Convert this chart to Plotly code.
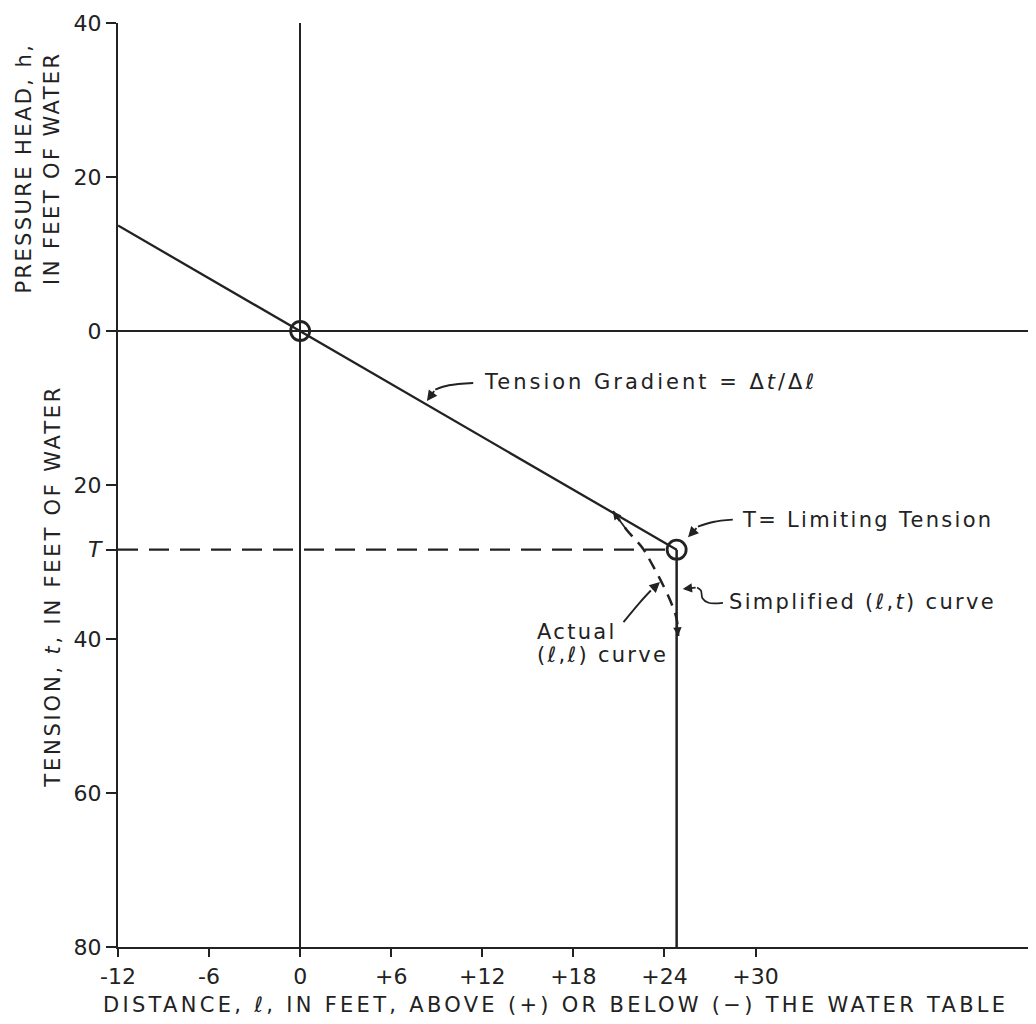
import plotly.graph_objects as go

# ---------------- data ----------------
x_tick_vals = [-12, -6, 0, 6, 12, 18, 24, 30]
x_tick_labels = ["-12", "-6", "0", "+6", "+12", "+18", "+24", "+30"]

limiting_tension = 28.4      # T, feet of water
limiting_distance = 24.8     # distance where tension reaches T

y_tick_vals = [40, 20, 0, -20, -limiting_tension, -40, -60, -80]
y_tick_labels = ["40", "20", "0", "20", "<i>T</i>", "40", "60", "80"]

gradient_distance = [-12, 0, limiting_distance]
gradient_head = [13.7, 0, -limiting_tension]

simplified_distance = [limiting_distance, limiting_distance]
simplified_head = [-limiting_tension, -80]

tline_distance = [-12, limiting_distance]
tline_head = [-limiting_tension, -limiting_tension]

actual_distance = [20.6, 21.5, 22.6, 23.1, 23.7, 24.4, 24.8, 24.9]
actual_head = [-23.4, -25.8, -28.3, -30.0, -32.2, -35.1, -37.4, -39.6]

key_distance = [0, limiting_distance]
key_head = [0, -limiting_tension]

# ---------------- style ----------------
INK = "#222222"
FONT = "DejaVu Sans"


def spaced(text, px=2.8):
    return '<span style="letter-spacing:%.1fpx">%s</span>' % (px, text)


fig = go.Figure()

fig.add_trace(go.Scatter(x=gradient_distance, y=gradient_head, mode="lines",
                         line=dict(color=INK, width=2.3), hoverinfo="skip"))
fig.add_trace(go.Scatter(x=simplified_distance, y=simplified_head, mode="lines",
                         line=dict(color=INK, width=2.5), hoverinfo="skip"))
fig.add_trace(go.Scatter(x=tline_distance, y=tline_head, mode="lines",
                         line=dict(color=INK, width=2.3, dash="20px,11px"), hoverinfo="skip"))
fig.add_trace(go.Scatter(x=actual_distance, y=actual_head, mode="lines",
                         line=dict(color=INK, width=2.5, dash="12px,8px", shape="spline"),
                         hoverinfo="skip"))
fig.add_trace(go.Scatter(x=key_distance, y=key_head, mode="markers",
                         marker=dict(symbol="circle-open", size=19, color=INK,
                                     line=dict(width=2.8, color=INK)),
                         hoverinfo="skip"))

annotations = []


def curved_arrow(xs, ys, width=1.9):
    """Draw a curved leader line ending with an arrowhead at the last point."""
    fig.add_trace(go.Scatter(x=xs[:-1], y=ys[:-1], mode="lines",
                             line=dict(color=INK, width=width, shape="spline"),
                             hoverinfo="skip"))
    annotations.append(dict(x=xs[-1], y=ys[-1], ax=xs[-2], ay=ys[-2],
                            xref="x", yref="y", axref="x", ayref="y",
                            showarrow=True, arrowhead=2, arrowsize=1.1,
                            arrowwidth=width, arrowcolor=INK, text=""))


def label(x, y, text, size=21, xanchor="left", ls=2.8):
    annotations.append(dict(x=x, y=y, xref="x", yref="y", text=spaced(text, ls),
                            showarrow=False, xanchor=xanchor, yanchor="middle",
                            font=dict(family=FONT, size=size, color=INK)))


# Tension gradient leader
curved_arrow([11.4, 9.8, 8.9, 8.35], [-6.75, -7.05, -7.6, -9.1])
label(12.0, -6.6, "Tension Gradient = Δ<i>t</i>/Δℓ", ls=3.0)

# Limiting tension leader
curved_arrow([28.5, 27.2, 26.2, 25.55], [-24.5, -24.8, -25.4, -26.8])
label(29.0, -24.55, "T= Limiting Tension", ls=2.3)

# Simplified curve squiggle
curved_arrow([27.85, 26.9, 26.5, 26.4, 26.15, 25.2],
             [-35.3, -35.3, -34.7, -33.7, -33.3, -33.5], width=1.7)
label(28.15, -35.2, "Simplified (ℓ,<i>t</i>) curve", ls=2.3)

# Actual curve leader
curved_arrow([21.3, 22.4, 23.1, 23.7], [-37.8, -35.2, -33.7, -32.6])
label(15.5, -39.1, "Actual", ls=2.3)
label(15.5, -42.1, "(ℓ,ℓ) curve", ls=2.3)

# Arrowheads at the ends of the actual curve
for i0, i1 in [(0, 1), (-1, -2)]:
    annotations.append(dict(x=actual_distance[i0], y=actual_head[i0],
                            ax=actual_distance[i1], ay=actual_head[i1],
                            xref="x", yref="y", axref="x", ayref="y",
                            showarrow=True, arrowhead=2, arrowsize=1.0, arrowwidth=1.7,
                            arrowcolor=INK, text=""))

# Axis titles (paper coords relative to the plot area)
annotations.append(dict(x=-0.0869, y=0.843, xref="paper", yref="paper",
                        text=spaced("PRESSURE HEAD, h,", 2.4) + "<br>" + spaced("IN FEET OF WATER", 2.4),
                        textangle=-90,
                        showarrow=False, xanchor="center", yanchor="middle",
                        font=dict(family=FONT, size=21, color=INK)))
annotations.append(dict(x=-0.0702, y=0.391, xref="paper", yref="paper",
                        text=spaced("TENSION, <i>t</i>, IN FEET OF WATER", 2.8), textangle=-90,
                        showarrow=False, xanchor="center", yanchor="middle",
                        font=dict(family=FONT, size=21, color=INK)))
annotations.append(dict(x=0.473, y=-0.0628, xref="paper", yref="paper",
                        text=spaced("DISTANCE, ℓ, IN FEET, ABOVE (+) OR BELOW (−) THE WATER TABLE", 3.3),
                        showarrow=False, xanchor="center", yanchor="middle",
                        font=dict(family=FONT, size=21, color=INK)))

axis_common = dict(showgrid=False, showline=True, linecolor=INK, linewidth=2.3,
                   ticks="outside", tickcolor=INK, tickwidth=2,
                   zeroline=True, zerolinecolor=INK, zerolinewidth=2.3,
                   tickfont=dict(family=FONT, size=22, color=INK))

# page adds an 8px body margin; margins set so the plot area lands where the reference has it
fig.update_layout(
    width=1036, height=1016,
    margin=dict(l=110, r=0, t=15, b=77),
    paper_bgcolor="white", plot_bgcolor="white",
    showlegend=False,
    xaxis=dict(range=[-12, 49.0], tickmode="array", tickvals=x_tick_vals,
               ticktext=x_tick_labels, ticklen=8, **axis_common),
    yaxis=dict(range=[-80, 40], tickmode="array", tickvals=y_tick_vals,
               ticktext=y_tick_labels, ticklen=10, **axis_common),
    annotations=annotations,
)

fig.write_html("out.html")
